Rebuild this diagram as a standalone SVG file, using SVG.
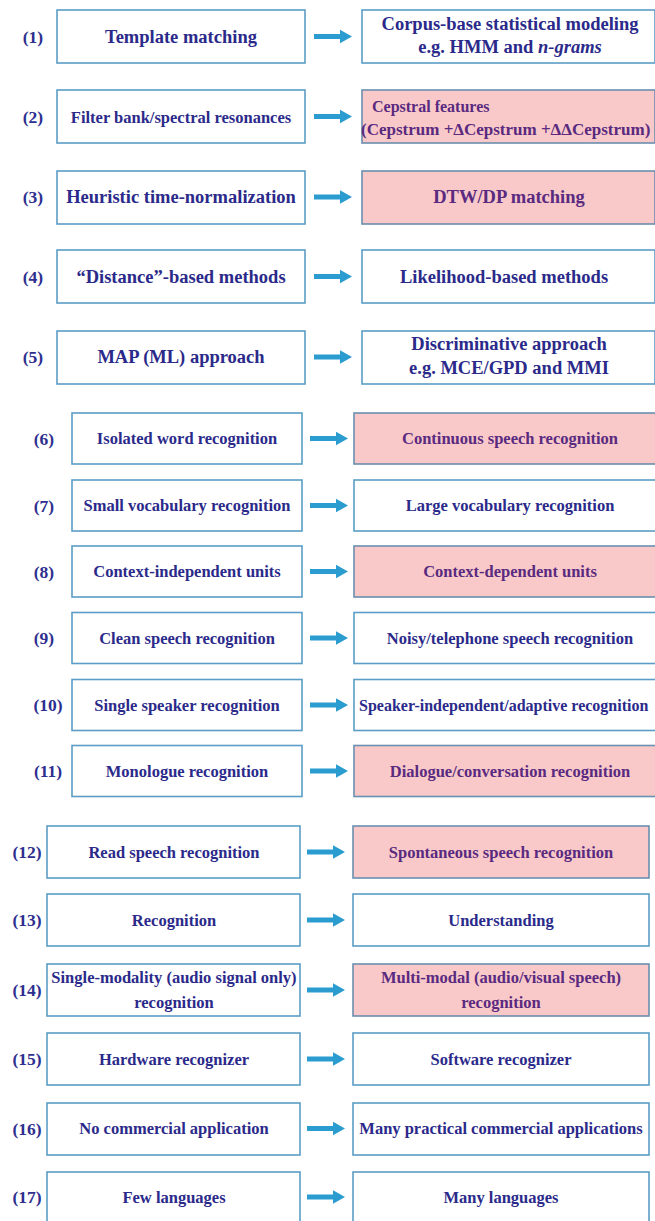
<svg xmlns="http://www.w3.org/2000/svg" xmlns:xlink="http://www.w3.org/1999/xlink" width="655" height="1221" viewBox="0 0 655 1221">
<style>
.b{fill:#ffffff;stroke:#5b9dc6;stroke-width:1.6}
.p{fill:#f9c9c9;stroke:#6a8fb0;stroke-width:1.6}
text{font-family:"Liberation Serif","Tinos","Times New Roman","DejaVu Serif",serif;font-weight:bold;fill:#2b2a8a;text-anchor:middle}
.t1{font-size:18.5px}
.t2{font-size:16.5px}
.pt{fill:#5a2a80}
.n{font-size:17.5px;fill:#2e2f8f}
.a{fill:#2a9ccf}
</style>
<defs>
<path id="arr" d="M0,-2.6 H26 V-6.8 L38,0 L26,6.8 V2.6 H0 Z"/>
</defs>
<g id="connectors" class="a">
<use xlink:href="#arr" x="314" y="36.5"/>
<use xlink:href="#arr" x="314" y="116.5"/>
<use xlink:href="#arr" x="314" y="197"/>
<use xlink:href="#arr" x="314" y="276.5"/>
<use xlink:href="#arr" x="314" y="357"/>
<use xlink:href="#arr" x="310" y="438.5"/>
<use xlink:href="#arr" x="310" y="505.5"/>
<use xlink:href="#arr" x="310" y="571.5"/>
<use xlink:href="#arr" x="310" y="638"/>
<use xlink:href="#arr" x="310" y="705"/>
<use xlink:href="#arr" x="310" y="771"/>
<use xlink:href="#arr" x="307" y="852"/>
<use xlink:href="#arr" x="307" y="920"/>
<use xlink:href="#arr" x="307" y="990"/>
<use xlink:href="#arr" x="307" y="1059"/>
<use xlink:href="#arr" x="307" y="1128.5"/>
<use xlink:href="#arr" x="307" y="1197"/>
</g>
<g id="row1">
<text class="n" x="33" y="42.5">(1)</text>
<g id="n1a"><rect class="b" x="57" y="10" width="248" height="53"/><text class="t1" x="181" y="42.5">Template matching</text></g>
<g id="n1b"><rect class="b" x="362" y="10" width="293" height="53"/><text class="t1" x="510" y="30">Corpus-base statistical modeling</text><text class="t1" x="510" y="53">e.g. HMM and <tspan font-style="italic">n-grams</tspan></text></g>
</g>
<g id="row2">
<text class="n" x="33" y="122.5">(2)</text>
<g id="n2a"><rect class="b" x="57" y="90" width="248" height="53"/><text class="t1" x="181" y="122.5" style="font-size:16.5px">Filter bank/spectral resonances</text></g>
<g id="n2b"><rect class="p" x="362" y="90" width="293" height="53"/><text class="t1 pt" x="372" y="112" style="text-anchor:start;font-size:16px">Cepstral features</text><text class="t1 pt" x="361" y="135" style="text-anchor:start;font-size:17px">(Cepstrum +ΔCepstrum +ΔΔCepstrum)</text></g>
</g>
<g id="row3">
<text class="n" x="33" y="203">(3)</text>
<g id="n3a"><rect class="b" x="57" y="171" width="248" height="53"/><text class="t1" x="181" y="203">Heuristic time-normalization</text></g>
<g id="n3b"><rect class="p" x="362" y="171" width="293" height="53"/><text class="t1 pt" x="509" y="203">DTW/DP matching</text></g>
</g>
<g id="row4">
<text class="n" x="33" y="282.5">(4)</text>
<g id="n4a"><rect class="b" x="57" y="250" width="248" height="53"/><text class="t1" x="181" y="282.5">“Distance”-based methods</text></g>
<g id="n4b"><rect class="b" x="362" y="250" width="293" height="53"/><text class="t1" x="504" y="282.5">Likelihood-based methods</text></g>
</g>
<g id="row5">
<text class="n" x="33" y="363">(5)</text>
<g id="n5a"><rect class="b" x="57" y="331" width="248" height="53"/><text class="t1" x="181" y="363">MAP (ML) approach</text></g>
<g id="n5b"><rect class="b" x="362" y="331" width="293" height="53"/><text class="t1" x="509" y="350">Discriminative approach</text><text class="t1" x="509" y="374">e.g. MCE/GPD and MMI</text></g>
</g>
<g id="row6">
<text class="n" x="44" y="444.5">(6)</text>
<g id="n6a"><rect class="b" x="72" y="413" width="230" height="51"/><text class="t2" x="187" y="444">Isolated word recognition</text></g>
<g id="n6b"><rect class="p" x="354" y="413" width="312" height="51"/><text class="t2 pt" x="510" y="444">Continuous speech recognition</text></g>
</g>
<g id="row7">
<text class="n" x="44" y="511.5">(7)</text>
<g id="n7a"><rect class="b" x="72" y="480" width="230" height="51"/><text class="t2" x="187" y="511">Small vocabulary recognition</text></g>
<g id="n7b"><rect class="b" x="354" y="480" width="312" height="51"/><text class="t2" x="510" y="511">Large vocabulary recognition</text></g>
</g>
<g id="row8">
<text class="n" x="44" y="577.5">(8)</text>
<g id="n8a"><rect class="b" x="72" y="546" width="230" height="51"/><text class="t2" x="187" y="577">Context-independent units</text></g>
<g id="n8b"><rect class="p" x="354" y="546" width="312" height="51"/><text class="t2 pt" x="510" y="577">Context-dependent units</text></g>
</g>
<g id="row9">
<text class="n" x="44" y="644">(9)</text>
<g id="n9a"><rect class="b" x="72" y="612.5" width="230" height="51"/><text class="t2" x="187" y="643.5">Clean speech recognition</text></g>
<g id="n9b"><rect class="b" x="354" y="612.5" width="312" height="51"/><text class="t2" x="510" y="643.5">Noisy/telephone speech recognition</text></g>
</g>
<g id="row10">
<text class="n" x="48" y="711">(10)</text>
<g id="n10a"><rect class="b" x="72" y="679.5" width="230" height="51"/><text class="t2" x="187" y="710.5">Single speaker recognition</text></g>
<g id="n10b"><rect class="b" x="354" y="679.5" width="312" height="51"/><text class="t2" x="359" y="710.5" style="text-anchor:start;font-size:16px">Speaker-independent/adaptive recognition</text></g>
</g>
<g id="row11">
<text class="n" x="48" y="777">(11)</text>
<g id="n11a"><rect class="b" x="72" y="745.5" width="230" height="51"/><text class="t2" x="187" y="776.5">Monologue recognition</text></g>
<g id="n11b"><rect class="p" x="354" y="745.5" width="312" height="51"/><text class="t2 pt" x="510" y="776.5">Dialogue/conversation recognition</text></g>
</g>
<g id="row12">
<text class="n" x="27" y="858">(12)</text>
<g id="n12a"><rect class="b" x="47" y="826" width="253" height="52"/><text class="t2" x="174" y="857.5">Read speech recognition</text></g>
<g id="n12b"><rect class="p" x="353" y="826" width="296" height="52"/><text class="t2 pt" x="501" y="857.5">Spontaneous speech recognition</text></g>
</g>
<g id="row13">
<text class="n" x="27" y="926">(13)</text>
<g id="n13a"><rect class="b" x="47" y="894" width="253" height="52"/><text class="t2" x="174" y="925.5">Recognition</text></g>
<g id="n13b"><rect class="b" x="353" y="894" width="296" height="52"/><text class="t2" x="501" y="925.5">Understanding</text></g>
</g>
<g id="row14">
<text class="n" x="27" y="996">(14)</text>
<g id="n14a"><rect class="b" x="47" y="964" width="253" height="52"/><text class="t2" x="174" y="983">Single-modality (audio signal only)</text><text class="t2" x="174" y="1008">recognition</text></g>
<g id="n14b"><rect class="p" x="353" y="964" width="296" height="52"/><text class="t2 pt" x="501" y="983">Multi-modal (audio/visual speech)</text><text class="t2 pt" x="501" y="1008">recognition</text></g>
</g>
<g id="row15">
<text class="n" x="27" y="1065">(15)</text>
<g id="n15a"><rect class="b" x="47" y="1033" width="253" height="52"/><text class="t2" x="174" y="1064.5">Hardware recognizer</text></g>
<g id="n15b"><rect class="b" x="353" y="1033" width="296" height="52"/><text class="t2" x="501" y="1064.5">Software recognizer</text></g>
</g>
<g id="row16">
<text class="n" x="27" y="1134.5">(16)</text>
<g id="n16a"><rect class="b" x="47" y="1103" width="253" height="52"/><text class="t2" x="174" y="1134">No commercial application</text></g>
<g id="n16b"><rect class="b" x="353" y="1103" width="296" height="52"/><text class="t2" x="501" y="1134">Many practical commercial applications</text></g>
</g>
<g id="row17">
<text class="n" x="27" y="1203">(17)</text>
<g id="n17a"><rect class="b" x="47" y="1172" width="253" height="52"/><text class="t2" x="174" y="1202.5">Few languages</text></g>
<g id="n17b"><rect class="b" x="353" y="1172" width="296" height="52"/><text class="t2" x="501" y="1202.5">Many languages</text></g>
</g>
</svg>
